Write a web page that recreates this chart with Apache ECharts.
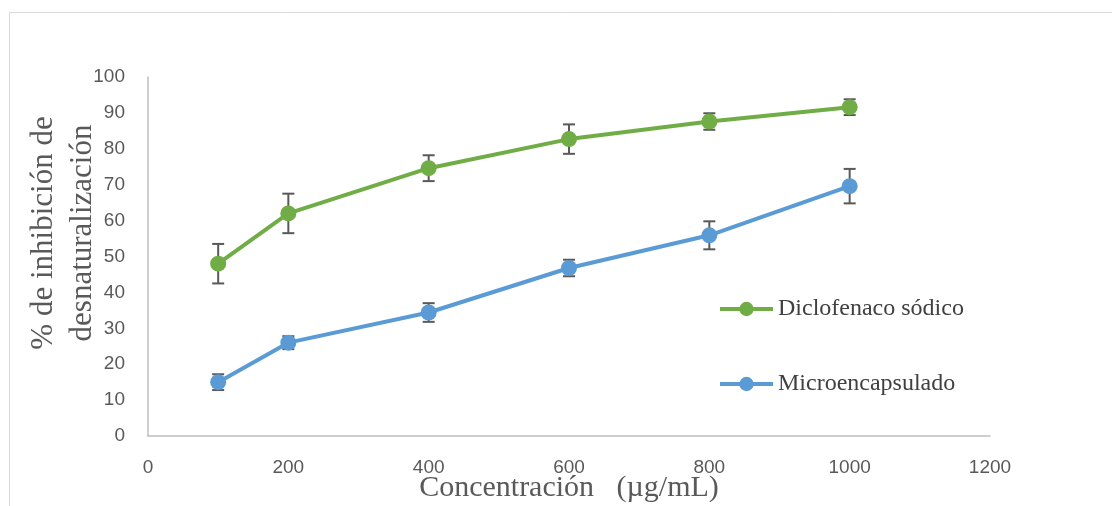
<!DOCTYPE html>
<html>
<head>
<meta charset="utf-8">
<script src="https://cdn.jsdelivr.net/npm/echarts@6/dist/echarts.min.js"></script>
<style>
  html, body { margin: 0; padding: 0; background: #fff; }
  #chart { width: 1112px; height: 506px; }
</style>
</head>
<body>
<div id="chart"></div>
<script>
var concentrations = [100, 200, 400, 600, 800, 1000];
var diclofenaco = [48, 62, 74.6, 82.7, 87.6, 91.6];
var diclofenacoErr = [5.5, 5.5, 3.6, 4.1, 2.3, 2.2];
var micro = [15, 26, 34.4, 46.8, 55.9, 69.6];
var microErr = [2.2, 1.8, 2.6, 2.3, 3.9, 4.8];

var serif = '"Liberation Serif", "Times New Roman", serif';
var sans = '"Liberation Sans", Arial, sans-serif';

var chart = echarts.init(document.getElementById('chart'));

function pairs(ys) {
  return concentrations.map((x, i) => [x, ys[i]]);
}
function errData(ys, errs) {
  return concentrations.map((x, i) => [x, ys[i], errs[i]]);
}

// error bars with caps
function renderErr(params, api) {
  var x = api.value(0), y = api.value(1), e = api.value(2);
  var top = api.coord([x, y + e]);
  var bot = api.coord([x, y - e]);
  var w = 6;
  var style = { stroke: '#595959', lineWidth: 2 };
  return {
    type: 'group',
    children: [
      { type: 'line', shape: { x1: top[0], y1: top[1], x2: bot[0], y2: bot[1] }, style: style },
      { type: 'line', shape: { x1: top[0] - w, y1: top[1], x2: top[0] + w, y2: top[1] }, style: style },
      { type: 'line', shape: { x1: bot[0] - w, y1: bot[1], x2: bot[0] + w, y2: bot[1] }, style: style }
    ]
  };
}

chart.setOption({
  animation: false,
  backgroundColor: '#fff',
  grid: { left: 148, right: 122, top: 77, bottom: 70, outerBoundsMode: 'none' },
  graphic: [
    {
      type: 'rect',
      shape: { x: 9.5, y: 12.5, width: 1200, height: 600 },
      style: { fill: 'none', stroke: '#d9d9d9', lineWidth: 1 }
    },
    {
      type: 'text',
      x: 63, y: 233,
      rotation: Math.PI / 2,
      style: {
        text: '% de inhibición de\ndesnaturalización',
        font: '31px ' + serif,
        fill: '#595959',
        align: 'center',
        verticalAlign: 'middle',
        lineHeight: 39
      }
    }
  ],
  legend: {
    orient: 'vertical',
    left: 718,
    top: 297,
    padding: 0,
    itemWidth: 53,
    itemHeight: 18,
    itemGap: 51,
    lineStyle: { width: 4 },
    data: ['Diclofenaco sódico', 'Microencapsulado'],
    textStyle: { fontFamily: serif, fontSize: 24, color: '#404040' }
  },
  xAxis: {
    type: 'value',
    min: 0, max: 1200, interval: 200,
    name: 'Concentración   (µg/mL)',
    nameLocation: 'middle',
    nameGap: 37,
    nameMoveOverlap: false,
    nameTextStyle: { fontFamily: serif, fontSize: 30, color: '#595959' },
    axisLine: { lineStyle: { color: '#bfbfbf', width: 1.5 } },
    axisTick: { show: false },
    splitLine: { show: false },
    axisLabel: { fontFamily: sans, fontSize: 19, color: '#595959', margin: 22, formatter: v => String(v) }
  },
  yAxis: {
    type: 'value',
    min: 0, max: 100, interval: 10,
    axisLine: { show: true, lineStyle: { color: '#bfbfbf', width: 1.5 } },
    axisTick: { show: false },
    splitLine: { show: false },
    axisLabel: { fontFamily: sans, fontSize: 19, color: '#595959', margin: 23 }
  },
  series: [
    {
      name: 'Diclofenaco sódico',
      type: 'line',
      data: pairs(diclofenaco),
      symbol: 'circle',
      symbolSize: 16,
      z: 3,
      lineStyle: { color: '#70ad47', width: 4 },
      itemStyle: { color: '#70ad47' }
    },
    {
      name: 'Microencapsulado',
      type: 'line',
      data: pairs(micro),
      symbol: 'circle',
      symbolSize: 16,
      z: 3,
      lineStyle: { color: '#5b9bd5', width: 4 },
      itemStyle: { color: '#5b9bd5' }
    },
    {
      type: 'custom',
      renderItem: renderErr,
      data: errData(diclofenaco, diclofenacoErr),
      z: 2,
      silent: true
    },
    {
      type: 'custom',
      renderItem: renderErr,
      data: errData(micro, microErr),
      z: 2,
      silent: true
    }
  ]
});
</script>
</body>
</html>
